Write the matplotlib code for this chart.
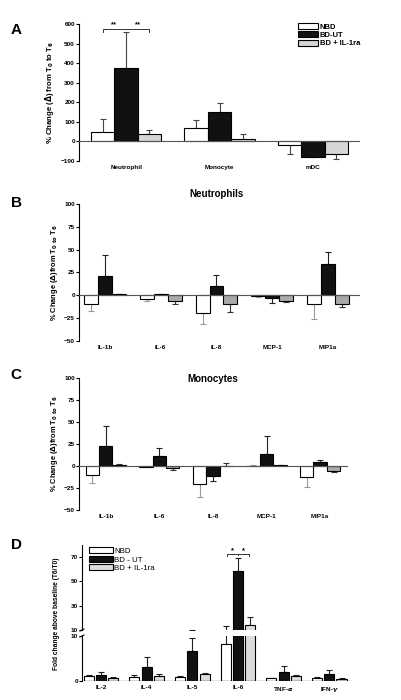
import numpy as np
import matplotlib
matplotlib.use("Agg")
import matplotlib.pyplot as plt

plt.rcParams['font.family'] = ['Liberation Sans', 'DejaVu Sans']
plt.rcParams['font.weight'] = 'bold'

# ---- panel A data ----
cats_a = ['Neutrophil', 'Monocyte', 'mDC']
nbd_a = [50, 70, -18]
nbd_a_err = [65, 40, 47]
bdut_a = [375, 150, -80]
bdut_a_err = [185, 45, 2]
il1ra_a = [40, 10, -65]
il1ra_a_err = [20, 30, 27]

# ---- panel B data (neutrophils) ----
cats_bc = ['IL-1b', 'IL-6', 'IL-8', 'MCP-1', 'MIP1a']
nbd_b = [-9, -4, -19, -1, -10]
nbd_b_err = [8, 2, 12, 1, 16]
bdut_b = [21, 1, 10, -3, 34]
bdut_b_err = [23, 1, 12, 5, 13]
il1ra_b = [1, -6, -10, -6, -9]
il1ra_b_err = [0, 3, 8, 1, 4]

# ---- panel C data (monocytes) ----
nbd_c = [-10, -1, -20, 0.5, -13]
nbd_c_err = [9, 0, 15, 0.5, 11]
bdut_c = [23, 11, -11, 14, 5]
bdut_c_err = [22, 9, 6, 20, 2]
il1ra_c = [1, -2, 0.5, 1, -6]
il1ra_c_err = [1, 2, 2.5, 0, 1]

# ---- panel D data ----
cats_d = ['IL-2', 'IL-4', 'IL-5', 'IL-6', 'TNF-$\\alpha$', 'IFN-$\\gamma$']
nbd_d = [1.2, 1.0, 1.0, 8.2, 0.6, 0.6]
nbd_d_err = [0.1, 0.3, 0.05, 4.8, 0.1, 0.2]
bdut_d = [1.3, 3.1, 6.6, 59, 2.0, 1.5]
bdut_d_err = [0.6, 2.2, 3.0, 10, 1.3, 0.9]
il1ra_d = [0.7, 1.1, 1.5, 14, 1.1, 0.5]
il1ra_d_err = [0.1, 0.4, 0.3, 7, 0.3, 0.2]

W, H = 401, 700
fig = plt.figure(figsize=(W / 100, H / 100), dpi=100)


def rect(l, r, t, b):
    return [l / W, (H - b) / H, (r - l) / W, (b - t) / H]


FS = 4.6


def style(ax):
    for s in ['top', 'right', 'bottom']:
        ax.spines[s].set_visible(False)
    ax.spines['left'].set_linewidth(0.8)
    ax.tick_params(axis='y', labelsize=FS, length=2, width=0.8, pad=1)
    ax.tick_params(axis='x', labelsize=FS, length=0, pad=3)
    for lab in ax.get_yticklabels() + ax.get_xticklabels():
        lab.set_fontweight('bold')


def bars(ax, x, vals, errs, color, ecolor, width, label=None):
    vals = np.array(vals, float)
    errs = np.array(errs, float)
    up = np.where(vals >= 0, errs, 0)
    dn = np.where(vals < 0, errs, 0)
    ax.bar(x, vals, width, color=color, edgecolor='black', linewidth=0.8, label=label, zorder=2)
    ax.errorbar(x, vals, yerr=[dn, up], fmt='none', ecolor=ecolor, elinewidth=0.8,
                capsize=2.2, capthick=0.8, zorder=1)


# ================= A =================
axA = fig.add_axes(rect(79, 360, 24, 161))
xa = np.arange(len(cats_a))
bars(axA, xa - 0.25, nbd_a, nbd_a_err, 'white', '#444444', 0.25, 'NBD')
bars(axA, xa, bdut_a, bdut_a_err, '#111111', '#444444', 0.25, 'BD-UT')
bars(axA, xa + 0.25, il1ra_a, il1ra_a_err, '#d6d6d6', '#444444', 0.25, 'BD + IL-1ra')
axA.axhline(0, color='#555555', lw=0.8, zorder=3)
axA.set_xlim(-0.505, 2.505)
axA.set_ylim(-100, 600)
axA.set_yticks([-100, 0, 100, 200, 300, 400, 500, 600])
axA.set_xticks(xa)
axA.set_xticklabels(cats_a)
style(axA)
axA.set_ylabel('% Change ($\\Delta$) from T$_0$ to T$_6$', fontsize=5.6, fontweight='bold', labelpad=3)
axA.plot([-0.25, -0.25, 0.25, 0.25], [560, 575, 575, 560], color='#333333', lw=0.7)
axA.text(-0.125, 580, '**', ha='center', va='bottom', fontsize=5.5)
axA.text(0.125, 580, '**', ha='center', va='bottom', fontsize=5.5)
axA.legend(loc='upper left', bbox_to_anchor=(0.765, 1.035), frameon=False,
           handlelength=2.6, handleheight=0.8, handletextpad=0.25, labelspacing=0.1, borderpad=0,
           prop={'weight': 'bold', 'size': 5.5})


# ================= B and C =================
def panel_bc(rc, xlim, n, nerr, u, uerr, r, rerr, title, title_y):
    ax = fig.add_axes(rc)
    x = np.arange(len(cats_bc))
    bars(ax, x - 0.25, n, nerr, 'white', '#999999', 0.25)
    bars(ax, x, u, uerr, '#111111', '#222222', 0.25)
    bars(ax, x + 0.25, r, rerr, '#a9a9a9', '#333333', 0.25)
    ax.axhline(0, color='#555555', lw=0.8, zorder=3)
    ax.set_xlim(*xlim)
    ax.set_ylim(-50, 100)
    ax.set_yticks([-50, -25, 0, 25, 50, 75, 100])
    ax.set_xticks(x)
    ax.set_xticklabels(cats_bc)
    style(ax)
    ax.set_ylabel('% Change ($\\Delta$)from T$_{0\\ to}$ T$_6$', fontsize=5.4, fontweight='bold', labelpad=3)
    ax.text(2.0, title_y, title, ha='center', va='center', fontsize=7, fontweight='bold',
            transform=ax.get_xaxis_transform())
    return ax


axB = panel_bc(rect(79, 360, 204, 341), (-0.466, 4.574), nbd_b, nbd_b_err, bdut_b, bdut_b_err,
               il1ra_b, il1ra_b_err, 'Neutrophils', 1.075)
axC = panel_bc(rect(79, 348, 378, 510), (-0.5, 4.52), nbd_c, nbd_c_err, bdut_c, bdut_c_err,
               il1ra_c, il1ra_c_err, 'Monocytes', 0.99)

# ================= D =================
axDu = fig.add_axes(rect(82, 352, 545, 630))
axDl = fig.add_axes(rect(82, 352, 636, 681))
xd = np.arange(len(cats_d))
for ax in (axDu, axDl):
    bars(ax, xd - 0.27, nbd_d, nbd_d_err, 'white', '#222222', 0.22, 'NBD')
    bars(ax, xd, bdut_d, bdut_d_err, '#111111', '#222222', 0.22, 'BD - UT')
    bars(ax, xd + 0.27, il1ra_d, il1ra_d_err, '#dcdcdc', '#222222', 0.22, 'BD + IL-1ra')
    ax.set_xlim(-0.42, 5.5)
    style(ax)
axDu.set_ylim(10, 80)
axDu.set_yticks([10, 30, 50, 70])
axDu.set_xticks([])
axDl.set_ylim(0, 10)
axDl.set_yticks([0, 10])
axDl.set_xticks(xd)
axDl.set_xticklabels(cats_d)
axDl.axhline(0, color='#333333', lw=0.9, zorder=3)
for lab in axDl.get_xticklabels():
    lab.set_fontweight('bold')
# break marks on the y axis
kw = dict(color='black', lw=0.8, clip_on=False, transform=fig.transFigure)
fig.add_artist(plt.Line2D([80 / W, 84 / W], [(H - 631) / H, (H - 629) / H], **kw))
fig.add_artist(plt.Line2D([80 / W, 84 / W], [(H - 637) / H, (H - 635) / H], **kw))
# significance bracket over IL-6
g = 3
axDu.plot([g - 0.25, g - 0.25, g + 0.25, g + 0.25], [71, 73, 73, 71], color='#333333', lw=0.7)
axDu.plot([g, g], [73, 71.5], color='#333333', lw=0.7)
axDu.text(g - 0.13, 72.3, '*', ha='center', va='bottom', fontsize=5.5)
axDu.text(g + 0.13, 72.3, '*', ha='center', va='bottom', fontsize=5.5)
axDu.legend(loc='upper left', bbox_to_anchor=(0.011, 1.02), frameon=False,
            handlelength=3.0, handleheight=0.8, handletextpad=0.2, labelspacing=0.1, borderpad=0,
            prop={'weight': 'normal', 'size': 5.7})
fig.text(57 / W, (H - 614) / H, 'Fold change above baseline (T6/T0)', rotation=90, ha='center',
         va='center', fontsize=4.8, fontweight='bold')

# panel letters
for letter, y in [('A', 30), ('B', 203), ('C', 375), ('D', 545)]:
    fig.text(16 / W, (H - y) / H, letter, fontsize=11, fontweight='bold', ha='center', va='center')

fig.savefig('out.png', dpi=100, facecolor='white')
